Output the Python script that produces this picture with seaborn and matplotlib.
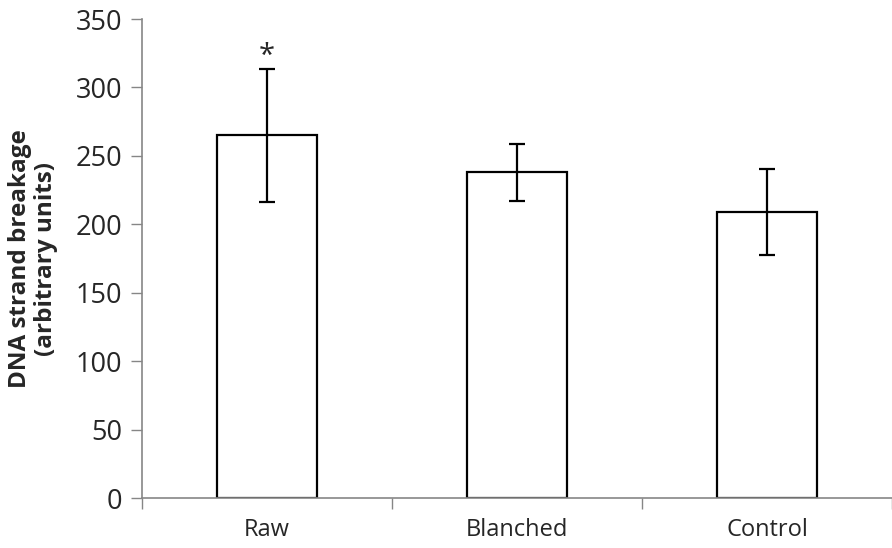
import numpy as np
import pandas as pd
import matplotlib
matplotlib.use('Agg')
import matplotlib.pyplot as plt
import seaborn as sns

# values
groups = ['Raw', 'Blanched', 'Control']
means = [265, 238, 209]
errors = [48.5, 20.7, 31.6]
y_ticks = [0, 50, 100, 150, 200, 250, 300, 350]

df = pd.DataFrame({'group': groups, 'value': means})

sns.set_style('white')
plt.rcParams['font.family'] = ['Open Sans', 'DejaVu Sans']

spine_col = '#868686'

fig = plt.figure(figsize=(8.92, 5.48), dpi=100)
ax = fig.add_axes([141.7 / 892, 1 - 498.3 / 548, 1 - 141.7 / 892, (498.3 - 19) / 548])

sns.barplot(data=df, x='group', y='value', color='white', edgecolor='black',
            linewidth=1.6, width=0.4, errorbar=None, ax=ax)
ax.errorbar(range(len(groups)), means, yerr=errors, fmt='none', ecolor='black',
            elinewidth=1.6, capsize=6, capthick=1.6)

# significance mark
ax.text(0, 323, '*', ha='center', va='center', fontsize=21)

ax.set_ylim(0, 350)
ax.set_xlim(-0.5, 2.466)
ax.set_yticks(y_ticks)
ax.set_xticks([-0.5, 0.5, 1.5, 2.5], minor=False)
ax.set_xticklabels(['', '', '', ''])
ax.set_xticks([0, 1, 2], minor=True)
ax.set_xticklabels(groups, minor=True)
ax.tick_params(axis='x', which='major', direction='out', length=8, width=1, color=spine_col,
               bottom=True)
ax.tick_params(axis='x', which='minor', length=0, pad=14, labelsize=17)
ax.tick_params(axis='y', direction='out', length=8, width=1, color=spine_col, left=True,
               labelsize=19.5, pad=6)

for side in ['top', 'right']:
    ax.spines[side].set_visible(False)
for side in ['left', 'bottom']:
    ax.spines[side].set_color(spine_col)
    ax.spines[side].set_linewidth(1.2)

ax.set_xlabel('')
ax.set_ylabel('DNA strand breakage\n(arbitrary units)', fontsize=17.5, fontweight='bold',
              labelpad=13, linespacing=1.1)

fig.savefig('out.png', dpi=100)
